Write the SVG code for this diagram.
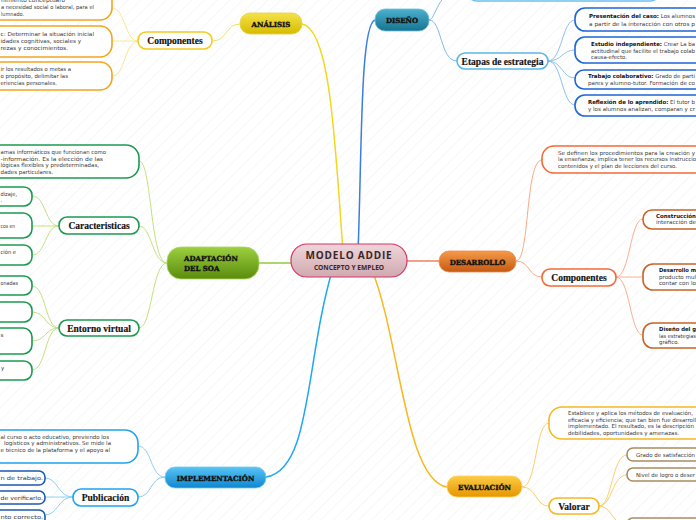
<svg xmlns="http://www.w3.org/2000/svg" width="696" height="520" viewBox="0 0 696 520">
<defs>
<pattern id="bg" width="9" height="9" patternUnits="userSpaceOnUse" patternTransform="rotate(45)"><line x1="0" y1="0" x2="0" y2="9" stroke="#f0f0f0" stroke-width="1"/></pattern>
<linearGradient id="gC" x1="0" y1="0" x2="0" y2="1"><stop offset="0" stop-color="#efd6da"/><stop offset="1" stop-color="#cfa9b0"/></linearGradient>
<linearGradient id="gY" x1="0" y1="0" x2="0" y2="1"><stop offset="0" stop-color="#f4e24a"/><stop offset="1" stop-color="#d6bc00"/></linearGradient>
<linearGradient id="gT" x1="0" y1="0" x2="0" y2="1"><stop offset="0" stop-color="#4cb0d0"/><stop offset="1" stop-color="#16748f"/></linearGradient>
<linearGradient id="gG" x1="0" y1="0" x2="0" y2="1"><stop offset="0" stop-color="#9cd040"/><stop offset="1" stop-color="#5a8c0c"/></linearGradient>
<linearGradient id="gO" x1="0" y1="0" x2="0" y2="1"><stop offset="0" stop-color="#f59a48"/><stop offset="1" stop-color="#c55a10"/></linearGradient>
<linearGradient id="gB" x1="0" y1="0" x2="0" y2="1"><stop offset="0" stop-color="#58c4f4"/><stop offset="1" stop-color="#0e86d0"/></linearGradient>
<linearGradient id="gE" x1="0" y1="0" x2="0" y2="1"><stop offset="0" stop-color="#fccc44"/><stop offset="1" stop-color="#e69600"/></linearGradient>
</defs>
<style>
.main{font-family:"DejaVu Serif",serif;font-weight:bold;font-size:7px;fill:#111;stroke:#111;stroke-width:0.35px;}
.sub{font-family:"Liberation Serif",serif;font-weight:bold;font-size:9.5px;fill:#111;stroke:#111;stroke-width:0.15px;}
.t{font-family:"DejaVu Sans",sans-serif;font-size:5.5px;fill:#3a3a3a;}
.b{font-weight:bold;fill:#111;}
.c{fill:none;}
.box{fill:#fff;stroke-width:1.6;}
</style>
<rect width="696" height="520" fill="#fff"/>
<rect width="696" height="520" fill="url(#bg)"/>

<g id="connectors" class="c">
<path d="M343 252 C335 140 330 28 302 24" stroke="#f0d820" stroke-width="1.5"/>
<path d="M240 24 C225 24 228 41 212 41" stroke="#f0e070"/>
<path d="M138 41 C125 41 125 8 112 8" stroke="#f8e890"/>
<path d="M138 41 C125 41 125 41 112 41" stroke="#f8e890"/>
<path d="M138 41 C125 41 125 76 112 76" stroke="#f8e890"/>
<path d="M358 252 C362 150 360 25 375 20" stroke="#3a7ee0" stroke-width="1.5"/>
<path d="M429 20 C436 20 436 -10 467 -15" stroke="#80b8f0"/>
<path d="M429 20 C442 20 440 61 457 61" stroke="#80b8f0"/>
<path d="M548 61 C562 61 562 20 575 20" stroke="#90c0f0"/>
<path d="M548 61 C562 61 562 50 575 50" stroke="#90c0f0"/>
<path d="M548 61 C562 61 562 78 575 78" stroke="#90c0f0"/>
<path d="M548 61 C562 61 562 105 575 105" stroke="#90c0f0"/>
<path d="M259 263 L291 263" stroke="#90c840" stroke-width="1.5"/>
<path d="M167 263 C150 263 152 161 139 161" stroke="#c4e080"/>
<path d="M167 263 C152 263 152 226 139 226" stroke="#c4e080"/>
<path d="M167 263 C152 263 152 328 139 328" stroke="#c4e080"/>
<path d="M59 226 C45 226 46 196 32 196" stroke="#c4e080"/>
<path d="M59 226 C45 226 46 226 32 226" stroke="#c4e080"/>
<path d="M59 226 C45 226 46 255 32 255" stroke="#c4e080"/>
<path d="M59 328 C45 328 46 286 32 286" stroke="#c4e080"/>
<path d="M59 328 C45 328 46 312 32 312" stroke="#c4e080"/>
<path d="M59 328 C45 328 46 341 32 341" stroke="#c4e080"/>
<path d="M59 328 C45 328 46 370 32 370" stroke="#c4e080"/>
<path d="M407 261 L439 261" stroke="#f08060" stroke-width="1.5"/>
<path d="M516 261 C530 261 525 160 542 160" stroke="#f8a888"/>
<path d="M516 261 C530 261 528 277 542 277" stroke="#f8a888"/>
<path d="M616 277 C630 277 630 219 643 219" stroke="#f8b090"/>
<path d="M616 277 C630 277 630 277 643 277" stroke="#f8b090"/>
<path d="M616 277 C630 277 630 335 643 335" stroke="#f8b090"/>
<path d="M333 268 C305 360 312 470 266 477" stroke="#20a8f0" stroke-width="1.5"/>
<path d="M165 477 C150 477 152 446 138 446" stroke="#90d0f0"/>
<path d="M165 477 C150 477 152 497 138 497" stroke="#90d0f0"/>
<path d="M73 497 C58 497 58 478 45 478" stroke="#90d0f0"/>
<path d="M73 497 C58 497 58 497 45 497" stroke="#90d0f0"/>
<path d="M73 497 C58 497 58 515 45 515" stroke="#90d0f0"/>
<path d="M372 270 C400 340 405 480 447 487" stroke="#f8b820" stroke-width="1.5"/>
<path d="M522 487 C537 487 535 423 549 423" stroke="#f8d070"/>
<path d="M522 487 C537 487 535 506 549 506" stroke="#f8d070"/>
<path d="M599 506 C612 506 612 455 627 455" stroke="#f8d070"/>
<path d="M599 506 C612 506 612 475 627 475" stroke="#f8d070"/>
<path d="M599 506 C612 506 612 525 627 525" stroke="#f8d070"/>
</g>

<g id="central">
<rect x="291" y="244" width="116" height="33" rx="16" fill="url(#gC)" stroke="#d83468" stroke-width="1.2"/>
<text x="349" y="259" text-anchor="middle" font-family="'Open Sans',sans-serif" font-weight="bold" font-size="10" letter-spacing="0.8" fill="#3a2626">MODELO ADDIE</text>
<text x="349" y="270" text-anchor="middle" font-family="'Open Sans',sans-serif" font-weight="bold" font-size="6.6" fill="#3a2626">CONCEPTO Y EMPLEO</text>
</g>

<g id="analisis">
<rect x="240" y="13" width="62" height="21" rx="10" fill="url(#gY)" stroke="#e8d040" stroke-width="0.8"/>
<text class="main" x="271" y="27" text-anchor="middle">ANÁLISIS</text>
</g>
<g id="analisis-componentes">
<rect class="box" x="138" y="32" width="74" height="17" rx="8" stroke="#f4cc20"/>
<text class="sub" x="175" y="44" text-anchor="middle">Componentes</text>
</g>
<g id="an-c1">
<rect class="box" x="-100" y="-20" width="212" height="40" rx="12" stroke="#f4a420"/>
<text class="t" x="1" y="2" textLength="64" lengthAdjust="spacingAndGlyphs">nimiento conceptuaro</text>
<text class="t" x="1" y="8.5" textLength="93" lengthAdjust="spacingAndGlyphs">a necesidad social o laboral, para el</text>
<text class="t" x="1" y="15.5" textLength="23" lengthAdjust="spacingAndGlyphs">lumnado.</text>
</g>
<g id="an-c2">
<rect class="box" x="-100" y="26" width="212" height="31" rx="12" stroke="#f4a420"/>
<text class="t" x="0.5" y="36" textLength="93.5" lengthAdjust="spacingAndGlyphs">c: Determinar la situación inicial</text>
<text class="t" x="0.5" y="43" textLength="80.5" lengthAdjust="spacingAndGlyphs">idades cognitivas, sociales y</text>
<text class="t" x="0.5" y="50" textLength="67.5" lengthAdjust="spacingAndGlyphs">rezas y conocimientos.</text>
</g>
<g id="an-c3">
<rect class="box" x="-100" y="62" width="212" height="28" rx="12" stroke="#f4a420"/>
<text class="t" x="0.5" y="71" textLength="70.5" lengthAdjust="spacingAndGlyphs">ir los resultados o metas a</text>
<text class="t" x="0.5" y="78" textLength="67.5" lengthAdjust="spacingAndGlyphs">o propósito, delimitar las</text>
<text class="t" x="0.5" y="85" textLength="56.5" lengthAdjust="spacingAndGlyphs">eriencias personales.</text>
</g>

<g id="diseno">
<rect x="375" y="9" width="54" height="22" rx="10" fill="url(#gT)" stroke="#6cc0dc" stroke-width="0.8"/>
<text class="main" x="402" y="23" text-anchor="middle">DISEÑO</text>
</g>
<g id="dis-top">
<rect class="box" x="467" y="-30" width="193" height="31" rx="10" stroke="#6ac0f0"/>
</g>
<g id="etapas">
<rect class="box" x="457" y="53" width="91" height="16" rx="8" stroke="#5ab8ec"/>
<text class="sub" x="502.5" y="64.5" text-anchor="middle" font-size="8.5">Etapas de estrategia</text>
</g>
<g id="et1">
<rect class="box" x="575" y="8" width="160" height="23" rx="10" stroke="#1c66d8"/>
<text class="t" x="589" y="18" textLength="106" lengthAdjust="spacingAndGlyphs"><tspan class="b">Presentación del caso:</tspan> Los alumnos</text>
<text class="t" x="589" y="25.5" textLength="106" lengthAdjust="spacingAndGlyphs">a partir de la interacción con otros p</text>
</g>
<g id="et2">
<rect class="box" x="575" y="37" width="160" height="26" rx="10" stroke="#1c66d8"/>
<text class="t" x="591" y="46" textLength="104" lengthAdjust="spacingAndGlyphs"><tspan class="b">Estudio independiente:</tspan> Crear La ba</text>
<text class="t" x="591" y="52.5" textLength="104" lengthAdjust="spacingAndGlyphs">actitudinal que facilite el trabajo colab</text>
<text class="t" x="591" y="59" textLength="36" lengthAdjust="spacingAndGlyphs">causa-efecto.</text>
</g>
<g id="et3">
<rect class="box" x="575" y="70" width="160" height="19" rx="9" stroke="#1c66d8"/>
<text class="t" x="588" y="78" textLength="107" lengthAdjust="spacingAndGlyphs"><tspan class="b">Trabajo colaborativo:</tspan> Grado de parti</text>
<text class="t" x="588" y="85" textLength="107" lengthAdjust="spacingAndGlyphs">pares y alumno-tutor. Formación de co</text>
</g>
<g id="et4">
<rect class="box" x="575" y="95" width="160" height="21" rx="10" stroke="#1c66d8"/>
<text class="t" x="588" y="103.5" textLength="107" lengthAdjust="spacingAndGlyphs"><tspan class="b">Reflexión de lo aprendido:</tspan> El tutor b</text>
<text class="t" x="588" y="111" textLength="107" lengthAdjust="spacingAndGlyphs">y los alumnos analizan, comparan  y cr</text>
</g>

<g id="adaptacion">
<rect x="167" y="247" width="92" height="32" rx="14" fill="url(#gG)" stroke="#a8d860" stroke-width="0.8"/>
<text class="main" x="184" y="261">ADAPTACIÓN</text>
<text class="main" x="184" y="271">DEL SOA</text>
</g>
<g id="ad-desc">
<rect class="box" x="-100" y="145" width="239" height="33" rx="13" stroke="#1a9a50"/>
<text class="t" x="0.5" y="154" textLength="105.5" lengthAdjust="spacingAndGlyphs">amas informáticos que funcionan como</text>
<text class="t" x="0.5" y="160.5" textLength="102.5" lengthAdjust="spacingAndGlyphs">-información.  Es la elección de las</text>
<text class="t" x="0.5" y="167" textLength="98.5" lengthAdjust="spacingAndGlyphs">lógicas flexibles y predeterminadas,</text>
<text class="t" x="0.5" y="173.5" textLength="52.5" lengthAdjust="spacingAndGlyphs">dades particulares.</text>
</g>
<g id="caracteristicas">
<rect class="box" x="59" y="217" width="80" height="17" rx="8" stroke="#1a9a50"/>
<text class="sub" x="99" y="229" text-anchor="middle">Caracteristicas</text>
</g>
<g id="ca1">
<rect class="box" x="-100" y="187" width="132" height="19" rx="8" stroke="#1a9a50"/>
<text class="t" x="0.5" y="195.5" textLength="16.5" lengthAdjust="spacingAndGlyphs">dizaje,</text>
<text class="t" x="0.5" y="201.5">.</text>
</g>
<g id="ca2">
<rect class="box" x="-100" y="213" width="132" height="25" rx="9" stroke="#1a9a50"/>
<text class="t" x="0.5" y="228" textLength="14.5" lengthAdjust="spacingAndGlyphs">cos en</text>
</g>
<g id="ca3">
<rect class="box" x="-100" y="245" width="132" height="20" rx="8" stroke="#1a9a50"/>
<text class="t" x="0.5" y="254" textLength="15.5" lengthAdjust="spacingAndGlyphs">ción e</text>
</g>
<g id="entorno">
<rect class="box" x="59" y="320" width="80" height="16" rx="8" stroke="#1a9a50"/>
<text class="sub" x="99" y="331.5" text-anchor="middle">Entorno virtual</text>
</g>
<g id="en1">
<rect class="box" x="-100" y="276" width="132" height="19" rx="8" stroke="#1a9a50"/>
<text class="t" x="0.5" y="285" textLength="17.5" lengthAdjust="spacingAndGlyphs">onadas</text>
</g>
<g id="en2">
<rect class="box" x="-100" y="302" width="132" height="20" rx="8" stroke="#1a9a50"/>
</g>
<g id="en3">
<rect class="box" x="-100" y="328" width="132" height="26" rx="9" stroke="#1a9a50"/>
<text class="t" x="0.5" y="336.5">s</text>
</g>
<g id="en4">
<rect class="box" x="-100" y="361" width="132" height="19" rx="8" stroke="#1a9a50"/>
<text class="t" x="1" y="370">y</text>
</g>

<g id="desarrollo">
<rect x="439" y="251" width="77" height="21" rx="10" fill="url(#gO)" stroke="#f08a50" stroke-width="0.8"/>
<text class="main" x="477.5" y="264.5" text-anchor="middle">DESARROLLO</text>
</g>
<g id="de-desc">
<rect class="box" x="542" y="146" width="200" height="27" rx="12" stroke="#f26a38"/>
<text class="t" x="558" y="154.5" textLength="137" lengthAdjust="spacingAndGlyphs">Se definen los procedimientos para la creación  y</text>
<text class="t" x="558" y="161" textLength="138" lengthAdjust="spacingAndGlyphs">la enseñanza; implica tener los recursos instruccio</text>
<text class="t" x="558" y="167.5" textLength="119" lengthAdjust="spacingAndGlyphs">contenidos y el plan de lecciones del curso.</text>
</g>
<g id="de-componentes">
<rect class="box" x="542" y="269" width="74" height="17" rx="8" stroke="#f26a38"/>
<text class="sub" x="579" y="281" text-anchor="middle">Componentes</text>
</g>
<g id="dc1">
<rect class="box" x="643" y="210" width="100" height="19" rx="9" stroke="#c8642a"/>
<text class="t" x="656" y="217.5" textLength="40" lengthAdjust="spacingAndGlyphs"><tspan class="b">Construcción</tspan></text>
<text class="t" x="656" y="224" textLength="40" lengthAdjust="spacingAndGlyphs">interacción de</text>
</g>
<g id="dc2">
<rect class="box" x="643" y="264" width="100" height="26" rx="10" stroke="#c8642a"/>
<text class="t" x="659" y="272" textLength="37" lengthAdjust="spacingAndGlyphs"><tspan class="b">Desarrollo m</tspan></text>
<text class="t" x="659" y="278.5" textLength="37" lengthAdjust="spacingAndGlyphs">producto mul</text>
<text class="t" x="659" y="285" textLength="37" lengthAdjust="spacingAndGlyphs">contar con lo</text>
</g>
<g id="dc3">
<rect class="box" x="643" y="323" width="100" height="25" rx="10" stroke="#c8642a"/>
<text class="t" x="659" y="331" textLength="37" lengthAdjust="spacingAndGlyphs"><tspan class="b">Diseño del g</tspan></text>
<text class="t" x="659" y="337.5" textLength="37" lengthAdjust="spacingAndGlyphs">las estrategias</text>
<text class="t" x="659" y="344" textLength="20" lengthAdjust="spacingAndGlyphs">gráfico.</text>
</g>

<g id="implementacion">
<rect x="165" y="467" width="101" height="21" rx="10" fill="url(#gB)" stroke="#70ccf4" stroke-width="0.8"/>
<text class="main" x="215.5" y="480.5" text-anchor="middle">IMPLEMENTACIÓN</text>
</g>
<g id="im-desc">
<rect class="box" x="-100" y="430" width="238" height="33" rx="13" stroke="#1ea4ec"/>
<text class="t" x="0.5" y="438.5" textLength="108.5" lengthAdjust="spacingAndGlyphs">al curso o acto educativo, previendo los</text>
<text class="t" x="4" y="445" textLength="107" lengthAdjust="spacingAndGlyphs">logísticos  y administrativos. Se mide la</text>
<text class="t" x="0.5" y="451.5" textLength="109.5" lengthAdjust="spacingAndGlyphs">e técnico de la plataforma y el apoyo al</text>
</g>
<g id="publicacion">
<rect class="box" x="73" y="489" width="65" height="17" rx="8" stroke="#1ea4ec"/>
<text class="sub" x="105.5" y="501" text-anchor="middle">Publicación</text>
</g>
<g id="pu1">
<rect class="box" x="-100" y="471" width="145" height="14" rx="6" stroke="#1c5ab0"/>
<text class="t" x="0.5" y="480" textLength="42.5" lengthAdjust="spacingAndGlyphs">n de trabajo.</text>
</g>
<g id="pu2">
<rect class="box" x="-100" y="491" width="145" height="13" rx="6" stroke="#1c5ab0"/>
<text class="t" x="0.5" y="499.5" textLength="42.5" lengthAdjust="spacingAndGlyphs">de verificarlo.</text>
</g>
<g id="pu3">
<rect class="box" x="-100" y="510" width="145" height="16" rx="6" stroke="#1c5ab0"/>
<text class="t" x="0.5" y="519" textLength="42.5" lengthAdjust="spacingAndGlyphs">nto correcto.</text>
</g>

<g id="evaluacion">
<rect x="447" y="476" width="75" height="21" rx="10" fill="url(#gE)" stroke="#fcd060" stroke-width="0.8"/>
<text class="main" x="484.5" y="489.5" text-anchor="middle">EVALUACIÓN</text>
</g>
<g id="ev-desc">
<rect class="box" x="549" y="407" width="200" height="32" rx="13" stroke="#f8b820"/>
<text class="t" x="568" y="415" textLength="125" lengthAdjust="spacingAndGlyphs">Establece y aplica los métodos de evaluación,</text>
<text class="t" x="568" y="421.5" textLength="128" lengthAdjust="spacingAndGlyphs">eficacia y eficiencia; que tan bien fue desarroll</text>
<text class="t" x="568" y="428" textLength="126" lengthAdjust="spacingAndGlyphs">implementado. El resultado, es la descripción</text>
<text class="t" x="568" y="434.5" textLength="111" lengthAdjust="spacingAndGlyphs">debilidades, oportunidades y amenazas.</text>
</g>
<g id="valorar">
<rect class="box" x="549" y="498" width="50" height="16" rx="8" stroke="#f8b820"/>
<text class="sub" x="574" y="509.5" text-anchor="middle">Valorar</text>
</g>
<g id="va1">
<rect class="box" x="627" y="448" width="100" height="13" rx="6" stroke="#a88c60"/>
<text class="t" x="636" y="456.5" textLength="59" lengthAdjust="spacingAndGlyphs">Grado de satisfacción</text>
</g>
<g id="va2">
<rect class="box" x="627" y="468" width="100" height="13" rx="6" stroke="#a88c60"/>
<text class="t" x="636" y="476.5" textLength="59" lengthAdjust="spacingAndGlyphs">Nivel de logro o deser</text>
</g>
<g id="va3">
<rect class="box" x="627" y="518" width="100" height="14" rx="6" stroke="#a88c60"/>
</g>
</svg>
